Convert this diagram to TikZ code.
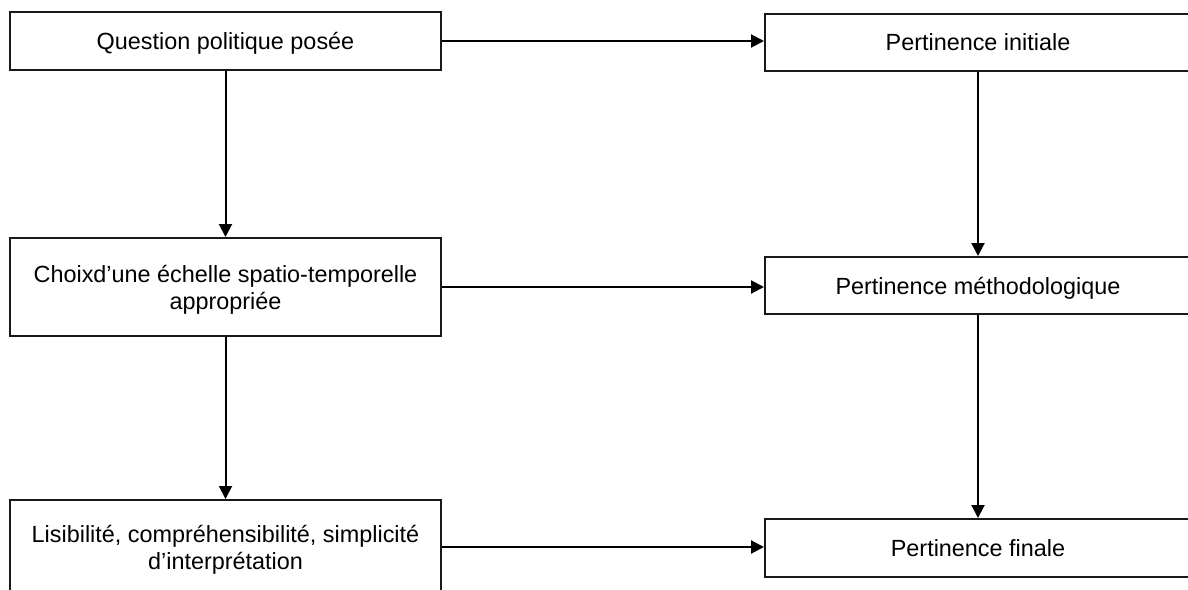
\documentclass[tikz,border=0pt]{standalone}
\usepackage{fontspec}
\setmainfont{Liberation Sans}
\usetikzlibrary{arrows.meta}
\begin{document}
\begin{tikzpicture}[x=0.5pt,y=-0.5pt,
  box/.style={draw=black!90, line width=1pt, fill=white, rectangle, inner sep=0pt,
    align=center, text depth=0pt, font=\fontsize{11.7}{13.5}\selectfont},
  conn/.style={draw=black, line width=1pt, -{Triangle[length=6.5pt,width=6.5pt]}}]
\clip (0,0) rectangle (1188,589);
\fill[white] (0,0) rectangle (1188,589);
\node[box, minimum width=215.5pt, minimum height=29pt] (q) at (225.5,41) {Question politique posée};
\node[box, minimum width=213pt, minimum height=28.5pt] (pi) at (978,42.5) {Pertinence initiale};
\node[box, minimum width=215.5pt, minimum height=49pt] (c) at (225.5,287) {Choixd’une échelle spatio-temporelle\\appropriée};
\node[box, minimum width=213pt, minimum height=28.5pt] (pm) at (978,285.5) {Pertinence méthodologique};
\node[box, minimum width=215.5pt, minimum height=47pt] (l) at (225.5,547) {Lisibilité, compréhensibilité, simplicité\\d’interprétation};
\node[box, minimum width=213pt, minimum height=29pt] (pf) at (978,548) {Pertinence finale};
\draw[conn] (q.south) -- (c.north);
\draw[conn] (c.south) -- (l.north);
\draw[conn] (pi.south) -- (pm.north);
\draw[conn] (pm.south) -- (pf.north);
\draw[conn] (q.east) -- (q.east -| pi.west);
\draw[conn] (c.east) -- (c.east -| pm.west);
\draw[conn] (l.east) -- (l.east -| pf.west);
\end{tikzpicture}
\end{document}
